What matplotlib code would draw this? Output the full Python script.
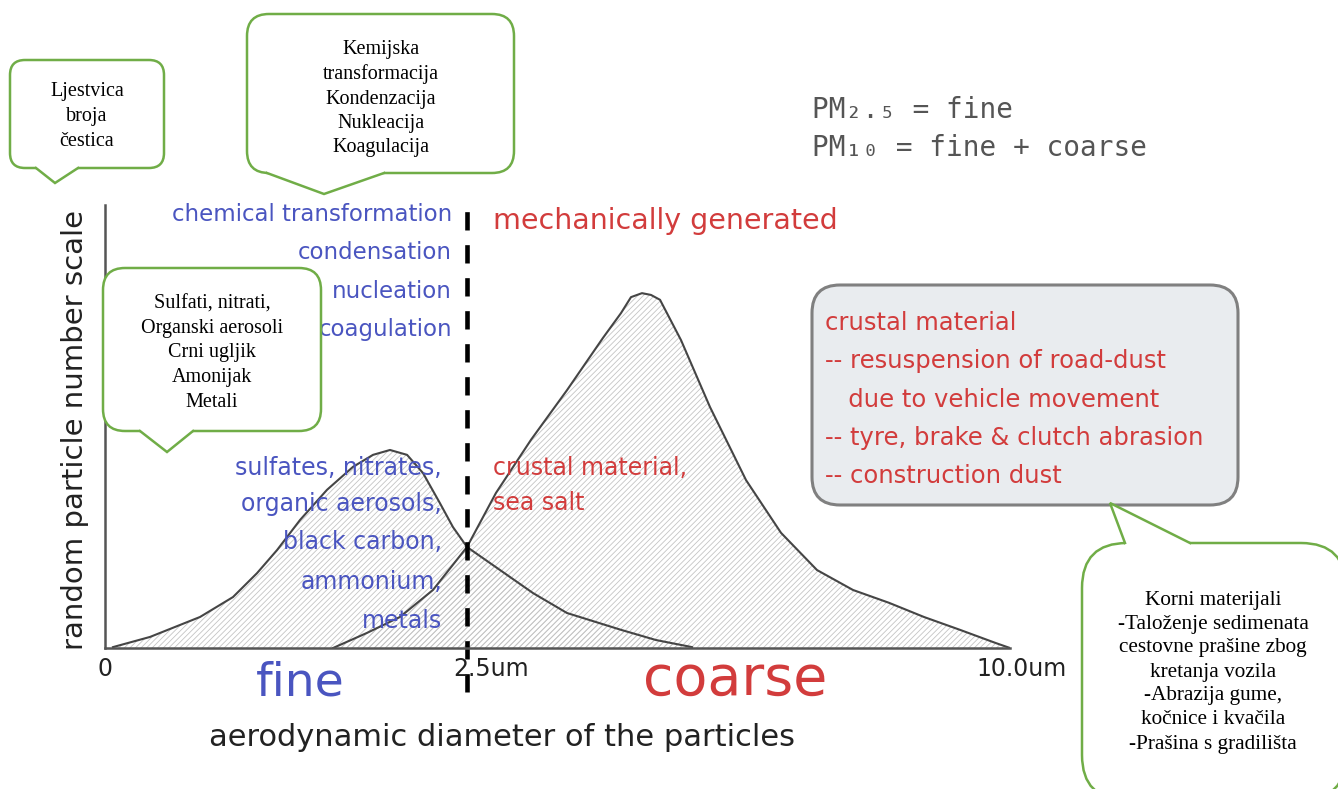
import matplotlib.pyplot as plt
import numpy as np
from matplotlib.patches import FancyBboxPatch, Polygon

W, H = 1338, 789

# particle size distributions (diameter in um, relative number)
fine_d = [0.055, 0.311, 0.656, 0.884, 1.050, 1.188, 1.347, 1.533, 1.713, 1.851, 1.968,
          2.086, 2.196, 2.313, 2.403, 2.500, 2.956, 3.412, 3.881, 4.627, 5.110, 5.608]
fine_n = [0.002, 0.025, 0.070, 0.115, 0.169, 0.221, 0.289, 0.357, 0.409, 0.436, 0.447,
          0.436, 0.395, 0.327, 0.273, 0.228, 0.176, 0.124, 0.079, 0.041, 0.018, 0.002]
coarse_d = [1.575, 1.809, 2.037, 2.265, 2.500, 2.900, 3.384, 3.881, 4.378, 4.627, 4.765,
            4.917, 5.041, 5.166, 5.456, 5.856, 6.354, 6.837, 7.334, 7.831, 8.329, 8.812,
            9.309, 9.807, 10.0]
coarse_n = [0.0, 0.034, 0.070, 0.131, 0.228, 0.350, 0.470, 0.582, 0.700, 0.756, 0.792,
            0.801, 0.797, 0.786, 0.695, 0.544, 0.379, 0.260, 0.176, 0.131, 0.102, 0.070,
            0.041, 0.011, 0.0]

cut_d = 2.5
tick_d = [0, 2.5, 10]
tick_lab = ['0', '2.5um', '10.0um']

fine_src = ['chemical transformation', 'condensation', 'nucleation', 'coagulation']
fine_comp = ['sulfates, nitrates,', 'organic aerosols,', 'black carbon,', 'ammonium,', 'metals']
coarse_comp = ['crustal material,', 'sea salt']
box_lines = ['crustal material', '-- resuspension of road-dust', '   due to vehicle movement',
             '-- tyre, brake & clutch abrasion', '-- construction dust']
pm_lines = ['PM\u2082.\u2085 = fine', 'PM\u2081\u2080 = fine + coarse']

note_scale = ['Ljestvica', 'broja', 'čestica']
note_chem = ['Kemijska', 'transformacija', 'Kondenzacija', 'Nukleacija', 'Koagulacija']
note_fine = ['Sulfati, nitrati,', 'Organski aerosoli', 'Crni ugljik', 'Amonijak', 'Metali']
note_coarse = ['Korni materijali', '-Taloženje sedimenata', 'cestovne prašine zbog',
               'kretanja vozila', '-Abrazija gume,', 'kočnice i kvačila', '-Prašina s gradilišta']

blue = '#4a55c0'
red = '#d23c3c'
green = '#70ad47'
ink = '#454545'

plt.rcParams['hatch.linewidth'] = 0.6
fig = plt.figure(figsize=(W / 100, H / 100), dpi=100, facecolor='white')

# chart axes, x axis is squeezed: 0-2.5um takes 40% of the width
ax = fig.add_axes([105 / W, (H - 648) / H, 905 / W, 443 / H])
knots_d, knots_p = [0, 2.5, 10], [0, 0.4, 1]
ax.set_xscale('function', functions=(lambda x: np.interp(x, knots_d, knots_p),
                                     lambda p: np.interp(p, knots_p, knots_d)))
ax.set_xlim(0, 10)
ax.set_ylim(0, 1)
ax.patch.set_alpha(0)
for s in ['top', 'right']:
    ax.spines[s].set_visible(False)
for s in ['left', 'bottom']:
    ax.spines[s].set_color('#555555')
    ax.spines[s].set_linewidth(1.8)
ax.set_xticks([])
ax.set_yticks([])

ax.fill_between(fine_d, fine_n, 0, facecolor='none', edgecolor='#c4c4c4', hatch='//////', lw=0)
ax.fill_between(coarse_d, coarse_n, 0, facecolor='none', edgecolor='#c4c4c4', hatch='//////', lw=0)
ax.plot(fine_d, fine_n, color=ink, lw=1.5, solid_joinstyle='round')
ax.plot(coarse_d, coarse_n, color=ink, lw=1.5, solid_joinstyle='round')
ax.plot([cut_d, cut_d], [-0.1, 0.99], color='black', lw=3.3, ls=(0, (4, 3.2)), clip_on=False)

tick_off = [0, 17, 8]
for d, lab, off in zip(tick_d, tick_lab, tick_off):
    ax.annotate(lab, (d, 0), xytext=(off, -15), textcoords='offset points',
                ha='center', va='center', fontsize=17, color='#222222', annotation_clip=False)

# overlay in pixel coordinates for texts and callouts
ov = fig.add_axes([0, 0, 1, 1], zorder=3)
ov.set_xlim(0, W)
ov.set_ylim(H, 0)
ov.axis('off')
ov.patch.set_alpha(0)

ov.text(75, 430, 'random particle number scale', rotation=90, ha='center', va='center',
        fontsize=21, color='#222222')
ov.text(502, 738, 'aerodynamic diameter of the particles', ha='center', va='center',
        fontsize=22, color='#222222')
ov.text(300, 683, 'fine', ha='center', va='center', fontsize=34, color=blue)
ov.text(735, 680, 'coarse', ha='center', va='center', fontsize=40, color=red)

for t, y in zip(fine_src, [212, 250, 289, 327]):
    ov.text(452, y, t, ha='right', va='center_baseline', fontsize=16.5, color=blue)
for t, y in zip(fine_comp, [465, 502, 540, 580, 618]):
    ov.text(442, y, t, ha='right', va='center_baseline', fontsize=17, color=blue)
ov.text(493, 218, 'mechanically generated', ha='left', va='center_baseline', fontsize=20.5, color=red)
for t, y in zip(coarse_comp, [465, 500]):
    ov.text(493, y, t, ha='left', va='center_baseline', fontsize=17, color=red)

ov.add_patch(FancyBboxPatch((812, 285), 426, 220, boxstyle='round,pad=0,rounding_size=28',
                            fc='#e9ecef', ec='#808080', lw=2.2, zorder=2))
for t, y in zip(box_lines, [320, 358, 397, 435, 473]):
    ov.text(825, y, t, ha='left', va='center_baseline', fontsize=17.5, color=red, zorder=3)

for t, y in zip(pm_lines, [107, 145]):
    ov.text(812, y, t, ha='left', va='center_baseline', fontsize=20, color='#555555',
            family='DejaVu Sans Mono')


def callout(x0, y0, x1, y1, r, base, tip, inward, lines, tx, ys, size):
    ov.add_patch(FancyBboxPatch((x0, y0), x1 - x0, y1 - y0,
                                boxstyle=f'round,pad=0,rounding_size={r}',
                                fc='white', ec=green, lw=1.8, zorder=5))
    bx0, bx1, by = base
    ov.add_patch(Polygon([(bx0, by + inward), (bx0, by), tip, (bx1, by), (bx1, by + inward)],
                         closed=True, fc='white', ec='none', zorder=6))
    ov.plot([bx0, tip[0], bx1], [by, tip[1], by], color=green, lw=1.8, zorder=7,
            solid_joinstyle='miter')
    for t, y in zip(lines, ys):
        ov.text(tx, y, t, ha='center', va='center_baseline', fontsize=size,
                family='Liberation Serif', color='black', zorder=8)


callout(10, 60, 164, 168, 15, (36, 78, 168), (55, 183), -4,
        note_scale, 87, [89, 114, 139], 14.5)
callout(247, 14, 514, 173, 22, (267, 384, 173), (324, 194), -4,
        note_chem, 381, [47, 72, 97, 121, 145], 14.5)
callout(103, 268, 321, 431, 22, (140, 193, 431), (167, 452), -4,
        note_fine, 212, [302, 326, 350, 375, 400], 14.5)
callout(1082, 543, 1346, 800, 45, (1125, 1190, 543), (1110, 503), 4,
        note_coarse, 1213, [598, 622, 645, 670, 693, 717, 742], 15.3)

fig.savefig('out.png', dpi=100, facecolor='white')
